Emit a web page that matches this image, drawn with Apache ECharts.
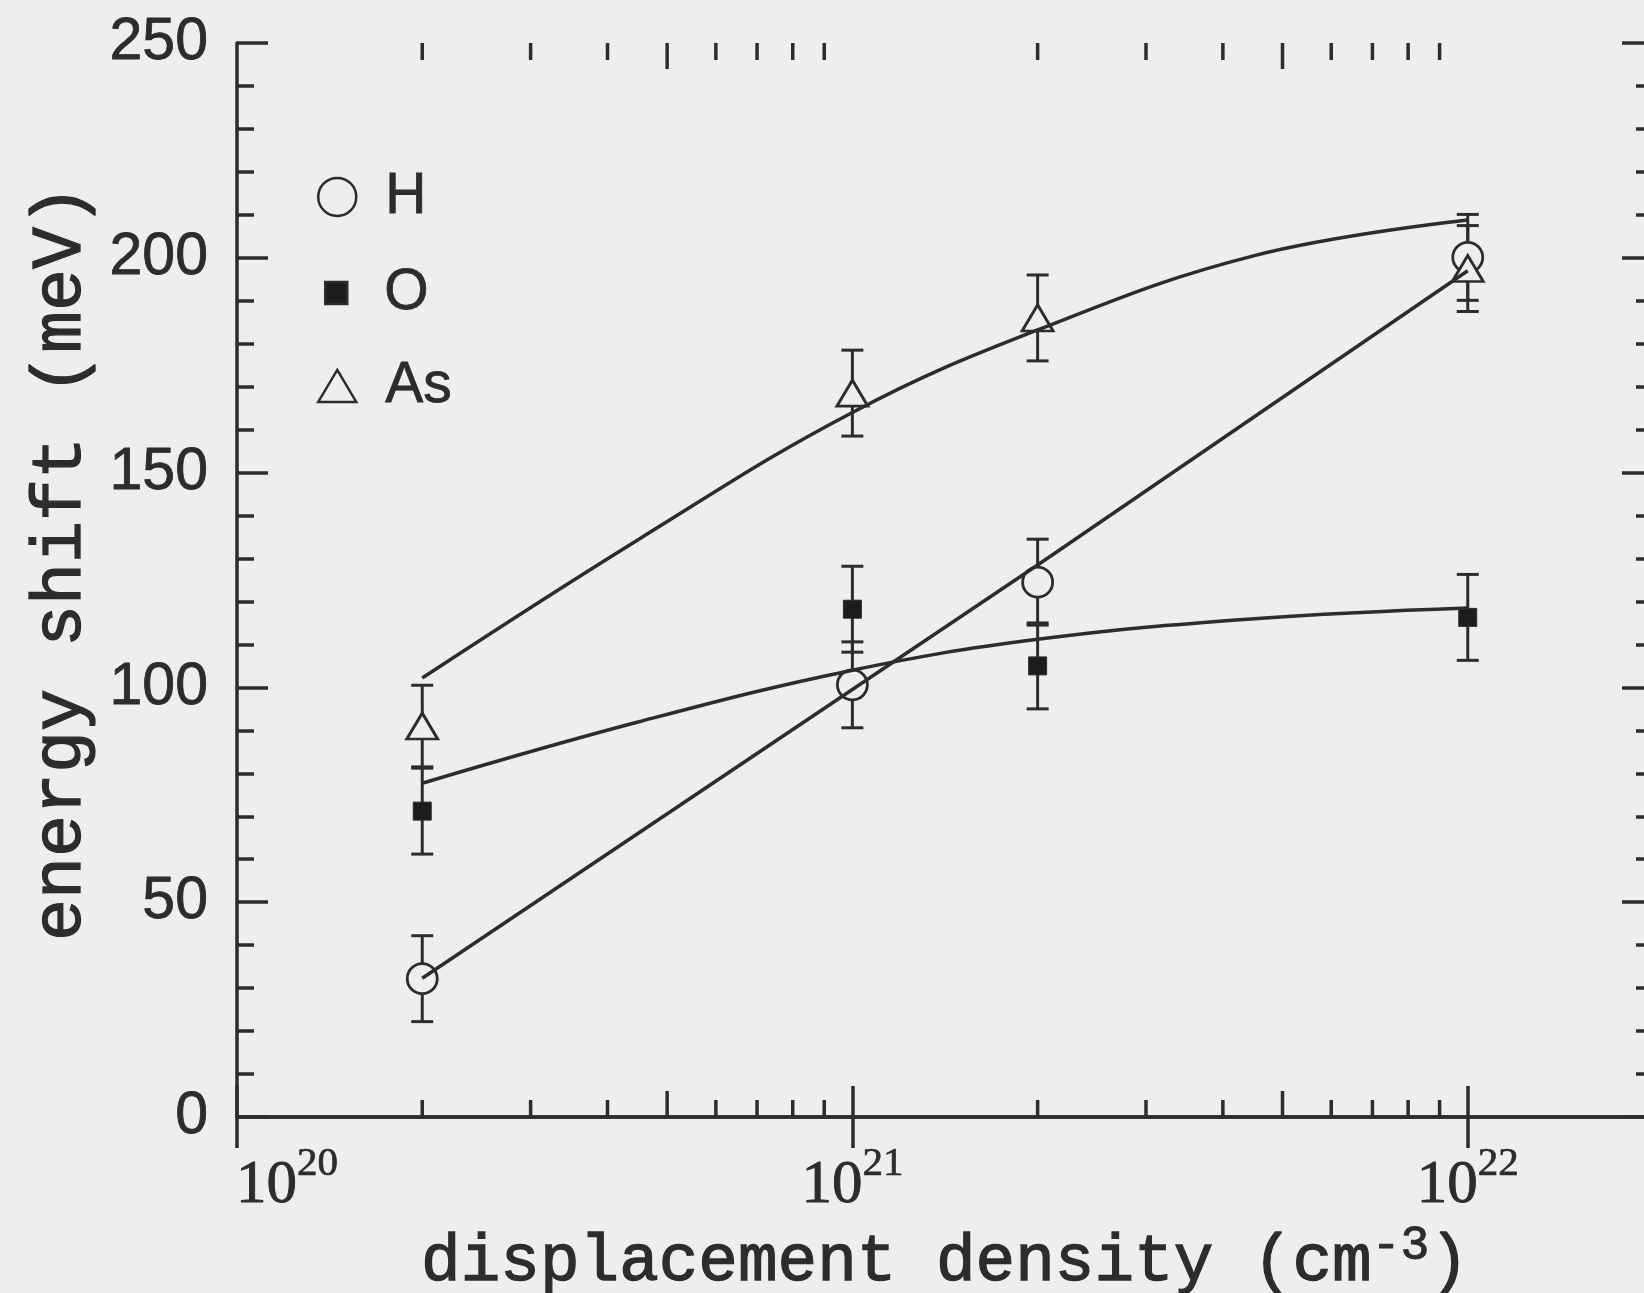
<!DOCTYPE html>
<html>
<head>
<meta charset="utf-8">
<title>Energy shift vs displacement density</title>
<script src="https://cdn.jsdelivr.net/npm/echarts@6.0.0/dist/echarts.min.js"></script>
<style>
  html, body { margin: 0; padding: 0; background: #eeeeee; }
  #chart { width: 1644px; height: 1293px; }
</style>
</head>
<body>
<div id="chart"></div>
<script>
// Displacement densities (cm^-3) at which the shifts were measured
const xPoints = [2e20, 1e21, 2e21, 1e22];

// Measured energy shifts (meV) and their error half-widths
const hShift  = [32.2, 100.6, 124.5, 200.1];
const hErr    = [10, 10, 10, 10];
const oShift  = [71.2, 118.2, 105.0, 116.3];
const oErr    = [10, 10, 10, 10];
const asShift = [91.0, 168.5, 186.0, 197.5];
const asErr   = [9.5, 10, 10, 10];

// Fitted trend curves
const hFitX  = [2e20, 1e21, 2e21, 1e22];
const hFit   = [32.3, 99.5, 128.5, 197.0];
const oFitX  = [2e20, 4.5e20, 1e21, 2e21, 4.5e21, 1e22];
const oFit   = [77.7, 92.0, 104.0, 111.2, 116.0, 118.5];
const asFitX = [2e20, 4.5e20, 1e21, 2e21, 4.5e21, 1e22];
const asFit  = [102.2, 134.5, 164.0, 183.2, 200.5, 208.8];

// Axis ranges and intermediate log ticks (2..9 x 10^n)
const xRange = [1e20, 2e22];
const yRange = [0, 250];
const yStep = 50;
const xMinorTicks = [2e20, 3e20, 4e20, 5e20, 6e20, 7e20, 8e20, 9e20,
                     2e21, 3e21, 4e21, 5e21, 6e21, 7e21, 8e21, 9e21];

const INK = '#2c2c2c';
const PAPER = '#eeeeee';
const SANS = '"Liberation Sans", Arial, sans-serif';
const SERIF = '"Liberation Serif", "Times New Roman", serif';
const MONO = '"Liberation Mono", "Courier New", monospace';
const LW = 3.5;

const zip = (xs, ys) => xs.map((x, i) => [x, ys[i]]);
// slight stroke so thin system fonts read with the weight of the printed type
const heavy = (w) => ({ textBorderColor: INK, textBorderWidth: w });

function errorBars(name, vals, errs) {
  return {
    type: 'custom',
    name: name,
    z: 2,
    silent: true,
    data: xPoints.map((x, i) => [x, vals[i] - errs[i], vals[i] + errs[i]]),
    encode: { x: 0, y: [1, 2] },
    renderItem: function (params, api) {
      const lo = api.coord([api.value(0), api.value(1)]);
      const hi = api.coord([api.value(0), api.value(2)]);
      const hw = 11;
      const style = { stroke: INK, lineWidth: 3 };
      return {
        type: 'group',
        children: [
          { type: 'line', shape: { x1: lo[0], y1: lo[1], x2: hi[0], y2: hi[1] }, style: style },
          { type: 'line', shape: { x1: lo[0] - hw, y1: lo[1], x2: lo[0] + hw, y2: lo[1] }, style: style },
          { type: 'line', shape: { x1: hi[0] - hw, y1: hi[1], x2: hi[0] + hw, y2: hi[1] }, style: style }
        ]
      };
    }
  };
}

function fitLine(name, xs, ys, smooth) {
  return {
    type: 'line',
    name: name,
    z: 4,
    silent: true,
    data: zip(xs, ys),
    showSymbol: false,
    smooth: smooth,
    lineStyle: { color: INK, width: LW },
    animation: false
  };
}

// Short log ticks on bottom and top edges; 5 x 10^n drawn a little longer
const minorTickSeries = {
  type: 'custom',
  name: 'log ticks',
  z: 1,
  silent: true,
  data: xMinorTicks.map(v => [v, yRange[0]]),
  encode: { x: 0, y: 1 },
  renderItem: function (params, api) {
    const v = api.value(0);
    const mant = Math.round(v / Math.pow(10, Math.floor(Math.log10(v) + 1e-9)));
    const len = mant === 5 ? 26 : 17;
    const b = api.coord([v, yRange[0]]);
    const t = api.coord([v, yRange[1]]);
    const style = { stroke: INK, lineWidth: LW };
    return {
      type: 'group',
      children: [
        { type: 'line', shape: { x1: b[0], y1: b[1], x2: b[0], y2: b[1] - len }, style: style },
        { type: 'line', shape: { x1: t[0], y1: t[1], x2: t[0], y2: t[1] + len }, style: style }
      ]
    };
  }
};

const axisLineStyle = { show: true, lineStyle: { color: INK, width: LW } };
const majorTick = { show: true, inside: true, length: 31, lineStyle: { color: INK, width: LW } };
const minorTick = { show: true, splitNumber: 5, length: 17, lineStyle: { color: INK, width: LW } };

function powerLabel(value) {
  const e = Math.log10(value);
  const n = Math.round(e);
  if (Math.abs(e - n) > 1e-6) return '';
  const lead = value === xRange[0] ? '{g| }' : '';
  return lead + '{b|10}{s|' + n + '}';
}

const legendText = Object.assign({ color: INK, fontFamily: SANS, fontSize: 57 }, heavy(0.8));
const legendBase = {
  orient: 'vertical', left: 317, itemWidth: 86, padding: 0,
  selectedMode: false, textStyle: legendText,
  itemStyle: { borderWidth: 2.5 }
};

const option = {
  backgroundColor: PAPER,
  animation: false,
  grid: { left: 237, top: 43, width: 1416, height: 1074, outerBoundsMode: 'none', containLabel: false },
  legend: [
    Object.assign({}, legendBase, { top: 168, itemHeight: 38,
      data: [{ name: 'H', icon: 'circle' }] }),
    Object.assign({}, legendBase, { left: 324, top: 264, itemHeight: 22,
      data: [{ name: 'O', icon: 'path://M0,0H10V10H0Z' }] }),
    Object.assign({}, legendBase, { top: 357, itemHeight: 32,
      data: [{ name: 'As', icon: 'path://M19,0L38,32L0,32Z' }] })
  ],
  xAxis: [
    {
      type: 'log', logBase: 10, min: xRange[0], max: xRange[1], position: 'bottom',
      axisLine: axisLineStyle, axisTick: majorTick, splitLine: { show: false },
      axisLabel: {
        show: true, margin: 27, color: INK,
        formatter: powerLabel,
        rich: {
          g: { width: 100 },
          b: Object.assign({ fontFamily: SERIF, fontSize: 61, lineHeight: 84, color: INK }, heavy(0.9)),
          s: Object.assign({ fontFamily: SERIF, fontSize: 41, lineHeight: 40, verticalAlign: 'top', color: INK }, heavy(0.7))
        }
      },
      name: '{t|displacement density (cm}{s|-3}{t|)}',
      nameLocation: 'middle', nameGap: 102,
      nameTextStyle: {
        rich: {
          t: Object.assign({ fontFamily: MONO, fontSize: 66, lineHeight: 80, color: INK }, heavy(1.3)),
          s: Object.assign({ fontFamily: MONO, fontSize: 48, lineHeight: 36, verticalAlign: 'top', color: INK }, heavy(1))
        }
      }
    },
    {
      type: 'log', logBase: 10, min: xRange[0], max: xRange[1], position: 'top',
      axisLine: axisLineStyle, axisTick: majorTick, splitLine: { show: false },
      axisLabel: { show: false }
    }
  ],
  yAxis: [
    {
      type: 'value', min: yRange[0], max: yRange[1], interval: yStep, position: 'left',
      axisLine: axisLineStyle, axisTick: majorTick, minorTick: minorTick,
      splitLine: { show: false }, minorSplitLine: { show: false },
      axisLabel: Object.assign({ show: true, margin: 29, color: INK, fontFamily: SANS, fontSize: 59 }, heavy(0.8)),
      name: 'energy shift (meV)',
      nameLocation: 'middle', nameGap: 141,
      nameTextStyle: Object.assign({ fontFamily: MONO, fontSize: 70, color: INK, padding: [0, 0, 0, 34] }, heavy(1.3))
    },
    {
      type: 'value', min: yRange[0], max: yRange[1], interval: yStep, position: 'right',
      axisLine: axisLineStyle, axisTick: majorTick, minorTick: minorTick,
      splitLine: { show: false }, axisLabel: { show: false }
    }
  ],
  series: [
    minorTickSeries,
    errorBars('H error', hShift, hErr),
    errorBars('O error', oShift, oErr),
    errorBars('As error', asShift, asErr),
    {
      type: 'scatter', name: 'H', z: 3, data: zip(xPoints, hShift),
      symbol: 'circle', symbolSize: 30,
      itemStyle: { color: PAPER, borderColor: INK, borderWidth: 2.8, opacity: 1 }
    },
    {
      type: 'scatter', name: 'O', z: 3, data: zip(xPoints, oShift),
      symbol: 'rect', symbolSize: 18,
      itemStyle: { color: '#1c1c1c', borderColor: INK, borderWidth: 1, opacity: 1 }
    },
    {
      type: 'scatter', name: 'As', z: 3, data: zip(xPoints, asShift),
      symbol: 'triangle', symbolSize: [31, 26],
      itemStyle: { color: PAPER, borderColor: INK, borderWidth: 2.8, opacity: 1 }
    },
    fitLine('H fit', hFitX, hFit, false),
    fitLine('O fit', oFitX, oFit, 0.4),
    fitLine('As fit', asFitX, asFit, 0.4)
  ]
};

const chart = echarts.init(document.getElementById('chart'), null, { renderer: 'canvas' });
chart.setOption(option);
</script>
</body>
</html>
